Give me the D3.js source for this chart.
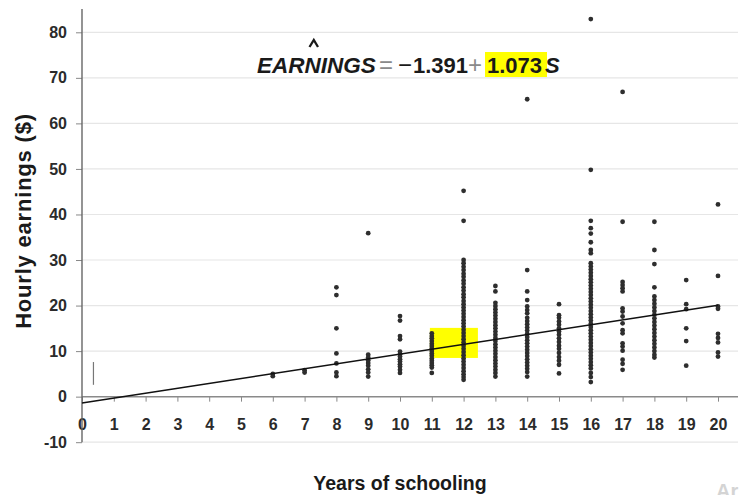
<!DOCTYPE html>
<html><head><meta charset="utf-8">
<script src="https://cdn.jsdelivr.net/npm/d3@7/dist/d3.min.js"></script>
<style>
html,body{margin:0;padding:0;background:#fff;}
svg{display:block;font-family:"Liberation Sans",Arial,sans-serif;}
</style></head>
<body><svg id="chart" width="741" height="495"></svg>
<script>
// ---- data: hourly earnings by years of schooling ----
const yearsTicks = d3.range(0, 21);
const earningsTicks = [-10, 0, 10, 20, 30, 40, 50, 60, 70, 80];
const s6  = [4.5, 5.0];
const s7  = [5.3, 5.8];
const s8  = [24.0, 22.3, 15.0, 9.5, 7.3, 5.3, 4.5];
const s9  = [35.9, 9.2, 8.6, 8.0, 7.4, 6.8, 6.0, 5.3, 4.4];
const s10 = [17.7, 16.7, 13.3, 12.6, 9.9, 9.3, 8.8, 8.2, 7.7, 7.1, 6.6, 5.9, 5.2];
const s11 = [13.9, 13.3, 12.8, 12.2, 11.6, 11.1, 10.6, 10.0, 9.5, 9.0, 8.4, 7.9, 7.4, 6.9, 6.4, 5.2];
const s12 = [45.2, 38.6, 30.0, 29.3, 28.5, 27.8, 27.0, 26.3, 25.5, 24.8, 24.0, 23.3, 22.5, 21.8, 21.0, 20.3, 19.6, 18.9, 18.2, 17.5, 16.8, 16.1, 15.4, 14.7, 14.0, 13.3, 12.6, 11.9, 11.2, 10.5, 9.8, 9.1, 8.4, 7.7, 7.0, 6.3, 5.6, 4.9, 4.3, 3.7];
const s13 = [24.3, 23.1, 20.6, 19.9, 19.2, 18.5, 17.8, 17.1, 16.4, 15.7, 15.0, 14.3, 13.6, 12.9, 12.2, 11.5, 10.8, 10.1, 9.4, 8.7, 8.0, 7.3, 6.6, 5.9, 5.2, 4.4];
const s14 = [65.3, 27.8, 23.1, 21.2, 19.8, 19.0, 18.3, 17.3, 16.6, 15.9, 15.2, 14.5, 13.8, 13.1, 12.4, 11.7, 11.0, 10.3, 9.6, 8.9, 8.2, 7.5, 6.8, 6.1, 5.4, 4.4];
const s15 = [20.3, 17.9, 17.3, 16.5, 15.8, 15.0, 14.3, 13.6, 12.8, 12.0, 11.2, 10.5, 9.6, 8.7, 7.9, 7.0, 5.1];
const s16 = [82.9, 49.8, 38.6, 37.0, 35.8, 33.9, 32.2, 31.5, 29.3, 28.6, 27.9, 27.2, 26.5, 25.8, 25.1, 24.4, 23.7, 23.0, 22.3, 21.6, 20.9, 20.2, 19.5, 18.8, 18.1, 17.4, 16.7, 16.0, 15.3, 14.6, 13.9, 13.2, 12.5, 11.8, 11.1, 10.4, 9.7, 9.0, 8.3, 7.6, 6.9, 6.2, 5.2, 4.3, 3.2];
const s17 = [66.9, 38.4, 25.2, 24.5, 23.8, 23.1, 19.4, 18.7, 17.6, 16.1, 14.6, 13.9, 11.7, 11.0, 10.1, 8.1, 7.2, 5.9];
const s18 = [38.4, 32.2, 29.1, 24.0, 22.0, 21.2, 20.4, 19.6, 18.8, 18.0, 17.2, 16.4, 15.6, 14.8, 14.0, 13.2, 12.4, 11.6, 10.8, 10.0, 9.2, 8.6];
const s19 = [25.6, 20.3, 19.2, 15.0, 12.2, 6.8];
const s20 = [42.2, 26.5, 19.8, 19.3, 13.8, 12.9, 11.9, 9.7, 8.8];
const groups = [[6, s6], [7, s7], [8, s8], [9, s9], [10, s10], [11, s11], [12, s12], [13, s13], [14, s14], [15, s15], [16, s16], [17, s17], [18, s18], [19, s19], [20, s20]];
const intercept = -1.391;
const slope = 1.073;
const highlightBox = {x0: 10.94, x1: 12.45, y0: 8.5, y1: 15.1};
const strayMark = {x: 0.36, y0: 2.6, y1: 7.6};

const points = groups.flatMap(([s, arr]) => arr.map(v => ({s, v})));

// ---- layout ----
const svg = d3.select("#chart");
const x = d3.scaleLinear().domain([0, 20]).range([82, 718]);
const y = d3.scaleLinear().domain([-10, 80]).range([442.2, 32.3]);
const gridRight = 738;

// gridlines
svg.append("g").selectAll("line").data(earningsTicks.filter(d => d !== 0)).join("line")
  .attr("x1", x(0)).attr("x2", gridRight)
  .attr("y1", d => y(d)).attr("y2", d => y(d))
  .attr("stroke", "#e6e6e6").attr("stroke-width", 1.2);

// highlight box
svg.append("rect")
  .attr("x", x(highlightBox.x0)).attr("y", y(highlightBox.y1))
  .attr("width", x(highlightBox.x1) - x(highlightBox.x0))
  .attr("height", y(highlightBox.y0) - y(highlightBox.y1))
  .attr("fill", "#ffff00");

// x axis at y=0
const xAxis = svg.append("g").attr("transform", `translate(0,${y(0)})`)
  .call(d3.axisBottom(x).tickValues(yearsTicks).tickFormat(d3.format("d")).tickSize(5).tickPadding(17));
xAxis.select(".domain").remove();
xAxis.append("line").attr("x1", x(0)).attr("x2", gridRight).attr("y1", 0).attr("y2", 0)
  .attr("stroke", "#8a8a8a").attr("stroke-width", 1.5);
xAxis.selectAll(".tick line").attr("stroke", "#888");
xAxis.selectAll(".tick text").attr("fill", "#2b2b2b").attr("font-size", 16).attr("font-weight", "bold");

// y axis
const yAxis = svg.append("g").attr("transform", `translate(${x(0)},0)`)
  .call(d3.axisLeft(y).tickValues(earningsTicks).tickFormat(d3.format("d")).tickSize(6).tickPadding(9));
yAxis.select(".domain").remove();
yAxis.append("line").attr("x1", 0).attr("x2", 0).attr("y1", 9).attr("y2", y(-10))
  .attr("stroke", "#666").attr("stroke-width", 1.4);
yAxis.selectAll(".tick line").attr("stroke", "#888");
yAxis.selectAll(".tick text").attr("fill", "#2b2b2b").attr("font-size", 16).attr("font-weight", "bold")
  .text(d => d < 0 ? "-" + Math.abs(d) : d);

// stray mark
svg.append("line").attr("x1", x(strayMark.x)).attr("x2", x(strayMark.x))
  .attr("y1", y(strayMark.y1)).attr("y2", y(strayMark.y0))
  .attr("stroke", "#777").attr("stroke-width", 1.2);

// points
svg.append("g").selectAll("circle").data(points).join("circle")
  .attr("cx", d => x(d.s)).attr("cy", d => y(d.v)).attr("r", 2.4)
  .attr("fill", "#2e2e2e");

// regression line
svg.append("line")
  .attr("x1", x(0)).attr("y1", y(intercept))
  .attr("x2", x(20)).attr("y2", y(intercept + slope * 20))
  .attr("stroke", "#111").attr("stroke-width", 1.6);

// equation
const eq = svg.append("g");
const eqBase = 73;
eq.append("rect").attr("x", 485).attr("y", 52).attr("width", 62).attr("height", 25).attr("fill", "#ffff00");
eq.append("text").attr("x", 257).attr("y", eqBase).attr("font-size", 22.5).attr("font-weight", "bold")
  .attr("font-style", "italic").attr("fill", "#1a1a1a").text("EARNINGS");
// hat over the N
eq.append("path").attr("d", "M309.5,47 L313.8,40 L318,47")
  .attr("fill", "none").attr("stroke", "#1a1a1a").attr("stroke-width", 2.3);
eq.append("text").attr("x", 379).attr("y", eqBase).attr("font-size", 24).attr("fill", "#8a8a8a").text("=");
eq.append("text").attr("x", 398).attr("y", eqBase).attr("font-size", 24).attr("fill", "#1a1a1a").text("\u2212");
eq.append("text").attr("x", 413).attr("y", eqBase).attr("font-size", 22).attr("font-weight", "bold").attr("fill", "#1a1a1a").text("1.391");
eq.append("text").attr("x", 468).attr("y", eqBase).attr("font-size", 24).attr("fill", "#8a8a8a").text("+");
eq.append("text").attr("x", 487).attr("y", eqBase).attr("font-size", 22).attr("font-weight", "bold").attr("fill", "#1a1a1a").text("1.073");
eq.append("text").attr("x", 545).attr("y", eqBase).attr("font-size", 22).attr("font-weight", "bold")
  .attr("font-style", "italic").attr("fill", "#1a1a1a").text("S");

// axis titles
svg.append("text").attr("transform", "translate(31,221) rotate(-90)")
  .attr("text-anchor", "middle").attr("font-size", 22).attr("letter-spacing", 0.8)
  .attr("font-weight", "bold").attr("fill", "#1a1a1a")
  .text("Hourly earnings ($)");
svg.append("text").attr("x", 400).attr("y", 490).attr("text-anchor", "middle")
  .attr("font-size", 19.5).attr("font-weight", "bold").attr("fill", "#1a1a1a")
  .text("Years of schooling");
// faint watermark fragment (cut by the edge, as in the reference)
svg.append("text").attr("x", 716).attr("y", 498).attr("font-size", 20).attr("font-weight", "bold")
  .attr("fill", "#d4d4d4").text("Ar");
</script></body></html>
